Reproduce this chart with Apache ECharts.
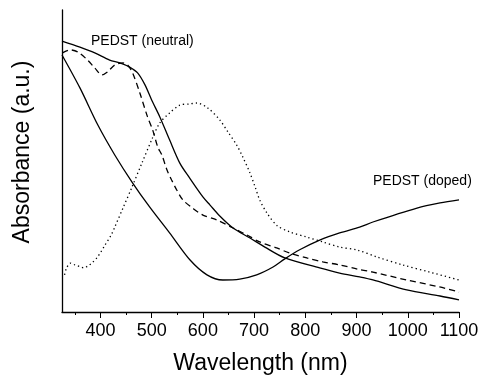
<!DOCTYPE html>
<html>
<head>
<meta charset="utf-8">
<script src="https://cdn.jsdelivr.net/npm/echarts@6/dist/echarts.min.js"></script>
<style>
    html, body { margin: 0; padding: 0; background: #fff; }
    #chart { width: 482px; height: 375px; }
</style>
</head>
<body>
<div id="chart"></div>
<script>
// neutral film, solid
var neutralX = [325, 360, 389, 418, 438, 457, 473, 487, 500, 516, 535, 555, 574, 600, 614, 633, 659, 692, 721, 760, 828, 867, 906, 932, 998, 1063, 1100];
var neutralY = [89.7, 87.7, 85.8, 83.4, 82.5, 81.1, 79.1, 75.2, 70.2, 64.6, 57, 49.3, 44.4, 38.1, 35.4, 31.8, 27.8, 24.5, 21.5, 17.9, 14.6, 12.9, 11.6, 10.6, 7.3, 5.3, 4.0];

// dashed curve
var dashX = [326, 341, 356, 375, 389, 403, 414, 428, 444, 453, 463, 477, 492, 502, 512, 520, 530, 539, 549, 561, 580, 600, 627, 659, 686, 711, 744, 770, 803, 834, 867, 902, 932, 998, 1062, 1100];
var dashY = [85.8, 86.8, 86.1, 83.4, 80.8, 78.5, 79.5, 81.8, 82.5, 81.8, 79.1, 72.5, 64.6, 60.3, 54.6, 52, 47, 43.7, 40.4, 37.1, 34.4, 32.1, 30.5, 27.8, 25.5, 23.2, 21.2, 19.5, 17.9, 16.6, 15.6, 14.2, 13.2, 10.6, 8.3, 6.6];

// doped film, solid
var dopedX = [325, 360, 395, 428, 463, 496, 535, 575, 608, 639, 672, 705, 737, 760, 789, 828, 867, 906, 932, 1018, 1063, 1100];
var dopedY = [85.1, 74.2, 61.9, 52, 42.7, 34.8, 26.2, 17.2, 12.3, 10.6, 10.9, 12.3, 14.9, 17.6, 20.6, 23.8, 26.2, 28.1, 29.8, 34.4, 36.1, 37.1];

// dotted curve
var dotX = [330, 334, 342, 350, 362, 367, 375, 383, 393, 401, 408, 422, 428, 444, 461, 481, 500, 516, 535, 555, 575, 588, 610, 633, 649, 666, 678, 692, 702, 711, 725, 745, 770, 803, 834, 867, 902, 940, 990, 1043, 1100];
var dotY = [12.3, 14.6, 16.2, 15.6, 14.9, 14.6, 15.2, 16.2, 17.9, 19.9, 21.9, 25.8, 28.1, 34.4, 41.1, 49.3, 57, 62.6, 65.9, 68.5, 68.9, 69.2, 67.5, 63.6, 59.6, 55.3, 51.3, 46, 41.4, 37.1, 32.8, 28.6, 26.5, 24.8, 23.2, 21.5, 20.5, 18.2, 15.6, 13.2, 10.6];

var majorTicks = [400, 500, 600, 700, 800, 900, 1000, 1100];
var minorTicks = [350, 450, 550, 650, 750, 850, 950, 1050];

function pairs(xs, ys) {
    var out = [];
    for (var i = 0; i < xs.length; i++) {
        out.push([xs[i], ys[i]]);
    }
    return out;
}

var font = 'Liberation Sans, Arial, sans-serif';

function curve(name, xs, ys, type) {
    return {
        name: name,
        type: 'line',
        data: pairs(xs, ys),
        smooth: 0.3,
        symbol: 'none',
        lineStyle: { color: '#000', width: 1.3, type: type }
    };
}

var chart = echarts.init(document.getElementById('chart'));

var option = {
    animation: false,
    grid: { left: 62, right: 23, top: 10, bottom: 63, outerBoundsMode: 'none', containLabel: false },
    xAxis: [{
        type: 'value',
        min: 325,
        max: 1100,
        splitLine: { show: false },
        axisLine: { lineStyle: { color: '#000', width: 1.3 } },
        axisTick: { customValues: majorTicks, length: 6, lineStyle: { color: '#000' } },
        axisLabel: {
            customValues: majorTicks,
            formatter: function (v) { return String(v); },
            color: '#000', fontSize: 18, fontFamily: font, margin: 10
        },
        name: 'Wavelength (nm)',
        nameLocation: 'middle',
        nameGap: 40,
        nameTextStyle: { color: '#000', fontSize: 23, fontFamily: font }
    }, {
        type: 'value',
        min: 325,
        max: 1100,
        position: 'bottom',
        splitLine: { show: false },
        axisLine: { show: false },
        axisTick: { customValues: minorTicks, length: 3, lineStyle: { color: '#000' } },
        axisLabel: { show: false }
    }],
    yAxis: {
        type: 'value',
        min: 0,
        max: 100,
        splitLine: { show: false },
        axisTick: { show: false },
        axisLabel: { show: false },
        axisLine: { show: true, lineStyle: { color: '#000', width: 1.3 } },
        name: 'Absorbance (a.u.)',
        nameLocation: 'middle',
        nameGap: 28,
        nameTextStyle: { color: '#000', fontSize: 23, fontFamily: font, padding: [0, 0, 0, 18] }
    },
    graphic: [{
        type: 'text',
        left: 91,
        top: 34,
        style: { text: 'PEDST (neutral)', fill: '#000', fontSize: 14, fontFamily: font }
    }, {
        type: 'text',
        left: 373,
        top: 174,
        style: { text: 'PEDST (doped)', fill: '#000', fontSize: 14, fontFamily: font }
    }],
    series: [
        curve('neutral', neutralX, neutralY, 'solid'),
        curve('dashed', dashX, dashY, [6, 4]),
        curve('doped', dopedX, dopedY, 'solid'),
        curve('dotted', dotX, dotY, [1.3, 3])
    ]
};

chart.setOption(option);
</script>
</body>
</html>
